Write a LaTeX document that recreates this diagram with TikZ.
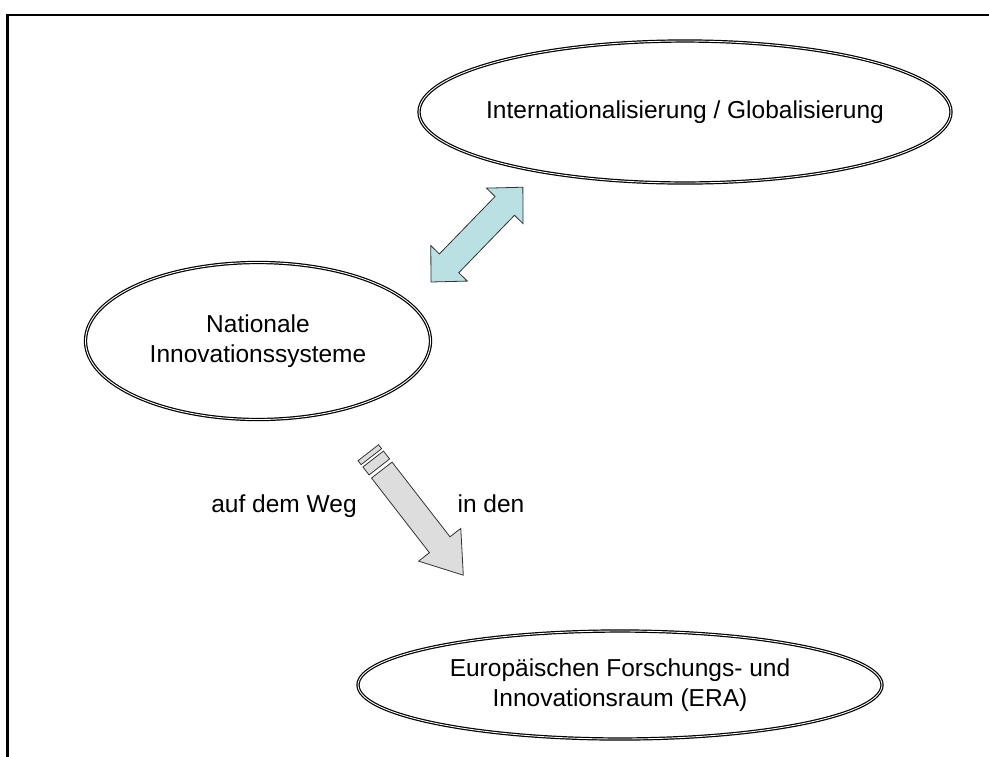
\documentclass[tikz,border=0pt]{standalone}
\usepackage{fontspec}
\setmainfont{Liberation Sans}
\usetikzlibrary{shapes.geometric}
\definecolor{pfeilblau}{RGB}{187,224,227}
\definecolor{pfeilgrau}{RGB}{221,221,221}
\tikzset{
  oval/.style={ellipse,draw,double,line width=1.2pt,double distance=0.9pt,inner sep=0pt},
  txt/.style={font=\fontsize{24.5}{30}\selectfont,align=center},
  pfeil/.style={draw=black!80,line width=0.8pt,line join=miter}
}
\begin{document}
\begin{tikzpicture}[x=1pt,y=1pt]
\useasboundingbox (0,0) rectangle (989,-756);
% rahmen
\draw[line width=2.6pt] (7.5,-757) -- (7.5,-15) -- (991,-15);
% ellipsen
\node[oval,minimum width=532,minimum height=142,
  label={[txt]center:Internationalisierung / Globalisierung}] (glob) at (685,-112) {};
\node[oval,minimum width=345,minimum height=157,
  label={[txt]center:{Nationale\\Innovationssysteme}}] (nat) at (258,-341) {};
\node[oval,minimum width=524,minimum height=108,
  label={[txt]center:{Europäischen Forschungs- und\\Innovationsraum (ERA)}}] (era) at (620,-685) {};
% doppelpfeil
\begin{scope}[shift={(431,-282)},rotate=45.9]
\filldraw[pfeil,fill=pfeilblau] (0,0) -- (26,25.5) -- (26,13.5) -- (106,13.5) -- (106,25.5) -- (132,0)
  -- (106,-25.5) -- (106,-13.5) -- (26,-13.5) -- (26,-25.5) -- cycle;
\end{scope}
% gestreifter pfeil
\begin{scope}[shift={(368.3,-452.7)},rotate=-52.2]
\filldraw[pfeil,fill=pfeilgrau] (0,-13) rectangle (5,13);
\filldraw[pfeil,fill=pfeilgrau] (8,-13) rectangle (18,13);
\filldraw[pfeil,fill=pfeilgrau] (22,-13) -- (116.5,-13) -- (116.5,-26.7) -- (155,0)
  -- (116.5,26.7) -- (116.5,13) -- (22,13) -- cycle;
\end{scope}
\node[txt,anchor=base] (weg) at (284,-512) {auf dem Weg};
\node[txt,anchor=base] (inden) at (491,-512) {in den};
\end{tikzpicture}
\end{document}
